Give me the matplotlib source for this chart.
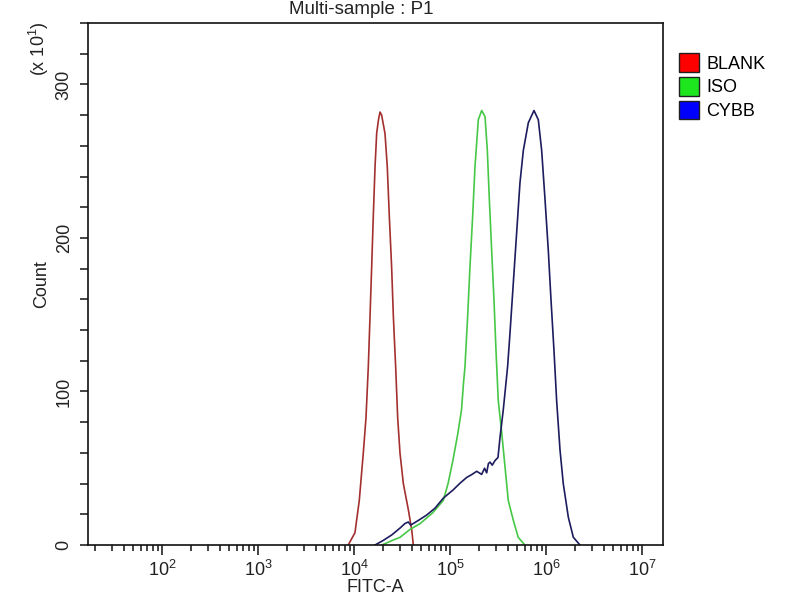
import numpy as np
import matplotlib
matplotlib.use("Agg")
import matplotlib.pyplot as plt
from matplotlib.patches import Patch
from matplotlib.ticker import LogLocator, MultipleLocator, NullFormatter

plt.rcParams['font.family'] = ['Liberation Sans', 'DejaVu Sans']
plt.rcParams['mathtext.fontset'] = 'custom'
plt.rcParams['mathtext.rm'] = 'Liberation Sans'
plt.rcParams['mathtext.it'] = 'Liberation Sans'
plt.rcParams['mathtext.default'] = 'regular'

# histogram outlines: x as log10(FITC-A), y as count (x10)
blank_logx = [3.94, 4.01, 4.055, 4.097, 4.125, 4.149, 4.167, 4.184, 4.201, 4.219, 4.236, 4.255, 4.271,
              4.288, 4.323, 4.347, 4.368, 4.392, 4.41, 4.434, 4.455, 4.479, 4.514, 4.566, 4.601, 4.618]
blank_y = [0, 8, 29, 60, 83, 116, 149, 181, 214, 246, 268, 277, 282,
           280, 268, 246, 214, 181, 149, 116, 83, 60, 40, 23, 10, 0]

iso_logx = [4.29, 4.40, 4.48, 4.58, 4.69, 4.82, 4.93, 4.98, 5.03, 5.08, 5.12, 5.14, 5.156, 5.184, 5.208,
            5.236, 5.26, 5.295, 5.33, 5.365, 5.389, 5.41, 5.434, 5.458, 5.479, 5.503, 5.539, 5.573,
            5.607, 5.66, 5.711, 5.78]
iso_y = [0, 3, 5, 10, 14, 21, 29, 40, 55, 72, 88, 105, 116, 149, 181,
         214, 246, 277, 283, 279, 257, 225, 192, 160, 127, 94, 73, 51,
         29, 16, 5, 0]

cybb_logx = [4.219, 4.305, 4.392, 4.479, 4.531, 4.566, 4.59, 4.618, 4.67, 4.757, 4.844, 4.93, 5.035,
             5.10, 5.174, 5.23, 5.278, 5.33, 5.36, 5.382, 5.40, 5.417, 5.44, 5.469, 5.50, 5.521,
             5.555, 5.6, 5.625, 5.66, 5.694, 5.729, 5.764, 5.816, 5.875, 5.92, 5.955, 5.99, 6.024,
             6.052, 6.083, 6.111, 6.146, 6.18, 6.233, 6.285, 6.354]
cybb_y = [0, 3, 6.5, 11, 14, 15, 13, 14, 16, 19.5, 24, 30.5, 36,
          40, 44, 46, 48, 46, 50, 47, 53, 54, 52, 55, 57, 70,
          88, 116, 138, 171, 203, 236, 257, 275, 283, 277, 257, 225, 192,
          160, 127, 94, 62, 40, 18, 5, 0]

xtick_values = [1e2, 1e3, 1e4, 1e5, 1e6, 1e7]
ytick_values = [0, 100, 200, 300]

series = [("BLANK", blank_logx, blank_y, "#a3302e", "#ff0000"),
          ("ISO", iso_logx, iso_y, "#46c846", "#1ee61e"),
          ("CYBB", cybb_logx, cybb_y, "#1c1c5e", "#0000ff")]

fig = plt.figure(figsize=(8, 6), dpi=100)
ax = fig.add_axes([88 / 800, 55 / 600, 575 / 800, 522 / 600])

for name, lx, y, lc, fc in series:
    ax.plot(10 ** np.array(lx), y, color=lc, lw=1.2)

ax.set_xscale('log')
ax.set_xlim(10 ** 1.229, 10 ** 7.219)
ax.set_ylim(0, 340)

ax.set_xticks(xtick_values)
ax.xaxis.set_minor_locator(LogLocator(base=10, subs=np.arange(2, 10), numticks=12))
ax.xaxis.set_minor_formatter(NullFormatter())
ax.set_yticks(ytick_values)
ax.yaxis.set_minor_locator(MultipleLocator(20))

ax.tick_params(axis='both', which='both', direction='out', colors='#111111', labelcolor='#222222',
               labelsize=13, width=1.1)
ax.tick_params(axis='x', which='major', length=7, pad=4)
ax.tick_params(axis='x', which='minor', length=4)
ax.tick_params(axis='y', which='both', length=6)
ax.tick_params(axis='y', which='major', labelrotation=90, pad=5)
for lab in ax.get_yticklabels():
    lab.set_va('center')

for sp in ax.spines.values():
    sp.set_linewidth(1.2)
    sp.set_color('#111111')

ax.set_xlabel('FITC-A', fontsize=13, color='#222222', labelpad=-1)
ax.set_ylabel('Count', fontsize=13, color='#222222', labelpad=4)
fig.text(39 / 800, 1 - 49 / 600, '(x 10$^1$)', rotation=90, ha='center', va='center',
         fontsize=13, color='#222222')
fig.text(361 / 800, 1 - 14 / 600, 'Multi-sample : P1', ha='center', va='baseline',
         fontsize=13.5, color='#222222')

handles = [Patch(facecolor=fc, edgecolor='#202020', linewidth=1.0, label=name)
           for name, lx, y, lc, fc in series]
fig.legend(handles=handles, loc='upper left', bbox_to_anchor=(672 / 800, 1 - 46 / 600),
           frameon=False, fontsize=13, handlelength=1.1, handleheight=1.2,
           handletextpad=0.4, labelspacing=0.25, borderaxespad=0)

fig.savefig('out.png', dpi=100)
